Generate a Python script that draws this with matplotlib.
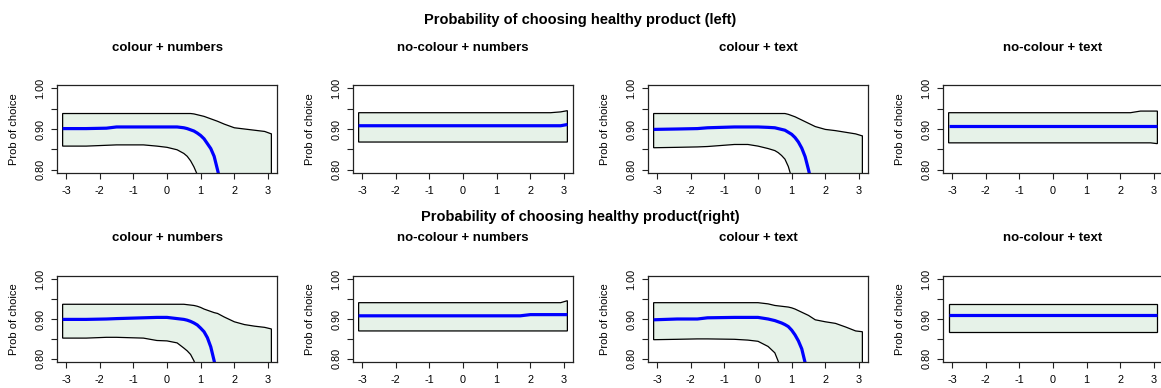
#!/usr/bin/env python3
# -*- coding: utf-8 -*-

import matplotlib
matplotlib.use("Agg")
import matplotlib.pyplot as plt

plt.rcParams['font.family'] = ['Liberation Sans', 'DejaVu Sans']
plt.rcParams['axes.unicode_minus'] = False

# common x grid (standardised attribute level)
x = [-3.1, -2.4, -1.8, -1.5, -0.7, -0.3, 0.0, 0.3, 0.5, 0.6, 0.7, 0.8, 0.9,
     1.0, 1.1, 1.2, 1.3, 1.4, 1.5, 1.7, 2.0, 2.3, 2.6, 2.9, 3.1]

titles = ["colour + numbers", "no-colour + numbers", "colour + text", "no-colour + text"]
rowTitles = ["Probability of choosing healthy product (left)",
             "Probability of choosing healthy product(right)"]

# ---- healthy product on the left ----
leftColNumMid = [0.901, 0.901, 0.902, 0.905, 0.905, 0.905, 0.905, 0.905, 0.903, 0.901, 0.898, 0.895, 0.890,
                 0.884, 0.876, 0.864, 0.852, 0.833, 0.800, 0.730, 0.600, 0.500, 0.420, 0.360, 0.330]
leftColNumHi = [0.938, 0.938, 0.938, 0.938, 0.938, 0.938, 0.938, 0.938, 0.938, 0.938, 0.938, 0.937, 0.935,
                0.933, 0.931, 0.928, 0.925, 0.922, 0.919, 0.912, 0.903, 0.900, 0.897, 0.894, 0.888]
leftColNumLo = [0.858, 0.858, 0.860, 0.861, 0.861, 0.858, 0.855, 0.849, 0.840, 0.833, 0.822, 0.807, 0.788,
                0.765, 0.740, 0.710, 0.680, 0.640, 0.600, 0.520, 0.400, 0.300, 0.220, 0.160, 0.130]

leftNoColNumMid = [0.908] * 23 + [0.908, 0.911]
leftNoColNumHi = [0.940] * 23 + [0.942, 0.945]
leftNoColNumLo = [0.868] * 25

leftColTxtMid = [0.899, 0.900, 0.901, 0.903, 0.905, 0.905, 0.905, 0.904, 0.903, 0.901, 0.899, 0.897, 0.892,
                 0.887, 0.879, 0.868, 0.853, 0.832, 0.800, 0.730, 0.600, 0.500, 0.420, 0.360, 0.330]
leftColTxtHi = [0.938, 0.938, 0.938, 0.938, 0.938, 0.938, 0.938, 0.938, 0.938, 0.938, 0.938, 0.938, 0.936,
                0.933, 0.930, 0.926, 0.922, 0.918, 0.914, 0.906, 0.899, 0.896, 0.892, 0.888, 0.883]
leftColTxtLo = [0.854, 0.855, 0.856, 0.857, 0.862, 0.862, 0.858, 0.852, 0.847, 0.842, 0.835, 0.826, 0.808,
                0.780, 0.750, 0.720, 0.690, 0.650, 0.610, 0.530, 0.410, 0.310, 0.230, 0.170, 0.140]

leftNoColTxtMid = [0.908] * 25
leftNoColTxtHi = [0.940] * 22 + [0.944, 0.944, 0.944]
leftNoColTxtLo = [0.866] * 24 + [0.864]

# ---- healthy product on the right ----
rightColNumMid = [0.899, 0.899, 0.900, 0.901, 0.903, 0.904, 0.904, 0.901, 0.899, 0.897, 0.894, 0.890, 0.885,
                  0.877, 0.868, 0.853, 0.830, 0.795, 0.750, 0.660, 0.540, 0.450, 0.380, 0.330, 0.300]
rightColNumHi = [0.937, 0.937, 0.937, 0.937, 0.937, 0.937, 0.937, 0.937, 0.937, 0.936, 0.935, 0.934, 0.932,
                 0.929, 0.925, 0.922, 0.919, 0.916, 0.914, 0.905, 0.893, 0.886, 0.882, 0.879, 0.875]
rightColNumLo = [0.852, 0.852, 0.854, 0.854, 0.852, 0.846, 0.845, 0.840, 0.827, 0.820, 0.811, 0.795, 0.770,
                 0.740, 0.710, 0.680, 0.640, 0.600, 0.560, 0.480, 0.370, 0.280, 0.200, 0.150, 0.120]

rightNoColNumMid = [0.908] * 20 + [0.911] * 5
rightNoColNumHi = [0.941] * 24 + [0.946]
rightNoColNumLo = [0.870] * 25

rightColTxtMid = [0.898, 0.900, 0.900, 0.903, 0.904, 0.904, 0.904, 0.900, 0.896, 0.893, 0.890, 0.886, 0.881,
                  0.872, 0.860, 0.845, 0.825, 0.790, 0.740, 0.650, 0.530, 0.440, 0.370, 0.320, 0.290]
rightColTxtHi = [0.941, 0.941, 0.941, 0.941, 0.941, 0.941, 0.941, 0.938, 0.934, 0.933, 0.932, 0.931, 0.930,
                 0.928, 0.925, 0.921, 0.917, 0.913, 0.909, 0.898, 0.893, 0.889, 0.880, 0.870, 0.868]
rightColTxtLo = [0.848, 0.849, 0.850, 0.850, 0.849, 0.847, 0.844, 0.831, 0.815, 0.794, 0.770, 0.745, 0.715,
                 0.685, 0.650, 0.610, 0.570, 0.530, 0.490, 0.410, 0.320, 0.240, 0.180, 0.140, 0.110]

rightNoColTxtMid = [0.909] * 25
rightNoColTxtHi = [0.938] * 25
rightNoColTxtLo = [0.867] * 25

panels = [
    [(leftColNumMid, leftColNumLo, leftColNumHi),
     (leftNoColNumMid, leftNoColNumLo, leftNoColNumHi),
     (leftColTxtMid, leftColTxtLo, leftColTxtHi),
     (leftNoColTxtMid, leftNoColTxtLo, leftNoColTxtHi)],
    [(rightColNumMid, rightColNumLo, rightColNumHi),
     (rightNoColNumMid, rightNoColNumLo, rightNoColNumHi),
     (rightColTxtMid, rightColTxtLo, rightColTxtHi),
     (rightNoColTxtMid, rightNoColTxtLo, rightNoColTxtHi)],
]

W, H = 1161, 388
fig = plt.figure(figsize=(W / 100, H / 100), dpi=100)

# pixel layout of the boxes (R style multi-panel)
colLeft = [57, 353, 648, 943]
boxWidth = 220
rowBox = [(85, 173), (276, 362)]
subTitleY = [48, 238]
mainTitleY = [20, 217]

for r in range(2):
    top, bottom = rowBox[r]
    fig.text(0.5, 1 - mainTitleY[r] / H, rowTitles[r], ha='center', va='center',
             fontsize=10.5, fontweight='bold')
    for c in range(4):
        mid, lo, hi = panels[r][c]
        left = colLeft[c]
        ax = fig.add_axes([left / W, 1 - bottom / H, boxWidth / W, (bottom - top) / H])
        ax.fill(x + x[::-1], hi + lo[::-1], facecolor='#e6f2e8', edgecolor='black', linewidth=0.9)
        ax.plot(x, mid, color='#0000ff', linewidth=2.3, solid_capstyle='butt')
        ax.set_xlim(-3.267, 3.267)
        ax.set_ylim(0.792, 1.008)
        ax.set_xticks([-3, -2, -1, 0, 1, 2, 3])
        ax.set_yticks([0.80, 0.85, 0.90, 0.95, 1.00])
        ax.set_yticklabels(["0.80", "", "0.90", "", "1.00"], rotation=90, va='center')
        ax.tick_params(axis='both', length=4.5, width=0.8, labelsize=7.8, color='#222222')
        ax.tick_params(axis='x', pad=5)
        ax.tick_params(axis='y', pad=4)
        for s in ax.spines.values():
            s.set_linewidth(0.9)
            s.set_color('#222222')
        cx = (left + boxWidth / 2) / W
        fig.text(cx, 1 - subTitleY[r] / H, titles[c], ha='center', va='center',
                 fontsize=9.5, fontweight='bold')
        fig.text((left - 43) / W, 1 - (top + bottom) / 2 / H, "Prob of choice",
                 rotation=90, ha='center', va='center', fontsize=8)

fig.savefig("out.png", dpi=100)
